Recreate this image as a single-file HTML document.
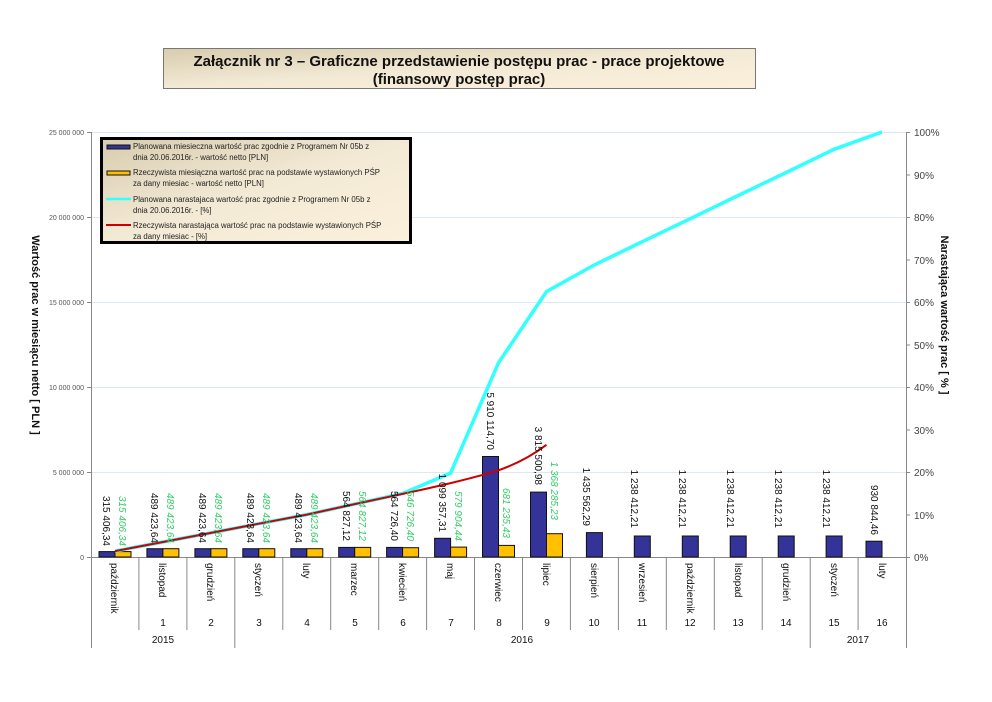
<!DOCTYPE html>
<html><head><meta charset="utf-8"><style>
html,body{margin:0;padding:0;background:#fff;}
svg{display:block;font-family:"Liberation Sans",Arial,sans-serif;}
</style></head><body>
<svg width="992" height="702" viewBox="0 0 992 702" xmlns="http://www.w3.org/2000/svg">
<defs>
<linearGradient id="bg" x1="0" y1="0" x2="1" y2="1">
<stop offset="0" stop-color="#d8ccae"/><stop offset="0.5" stop-color="#f3ead6"/><stop offset="1" stop-color="#fbf0dc"/>
</linearGradient>
</defs>
<rect x="163.5" y="48.5" width="592" height="40" fill="url(#bg)" stroke="#777" stroke-width="1"/>
<text x="459" y="66" font-size="15" font-weight="bold" text-anchor="middle" fill="#111">Załącznik nr 3 – Graficzne przedstawienie postępu prac - prace projektowe</text>
<text x="459" y="84" font-size="15" font-weight="bold" text-anchor="middle" fill="#111">(finansowy postęp prac)</text>

<g stroke="#dde8f5" stroke-width="1">
<line x1="91" y1="472.5" x2="906" y2="472.5"/><line x1="91" y1="387.5" x2="906" y2="387.5"/>
<line x1="91" y1="302.5" x2="906" y2="302.5"/><line x1="91" y1="217.5" x2="906" y2="217.5"/>
<line x1="91" y1="132.5" x2="906" y2="132.5"/>
</g>
<g stroke="#888" stroke-width="1">
<line x1="91.5" y1="132" x2="91.5" y2="648"/>
<line x1="906.5" y1="132" x2="906.5" y2="648"/>
<line x1="91" y1="557.5" x2="906" y2="557.5"/>
<line x1="87" y1="132.5" x2="91" y2="132.5"/><line x1="87" y1="217.5" x2="91" y2="217.5"/><line x1="87" y1="302.5" x2="91" y2="302.5"/><line x1="87" y1="387.5" x2="91" y2="387.5"/><line x1="87" y1="472.5" x2="91" y2="472.5"/><line x1="87" y1="557.5" x2="91" y2="557.5"/>
<line x1="906" y1="132.5" x2="910" y2="132.5"/><line x1="906" y1="175" x2="910" y2="175"/><line x1="906" y1="217.5" x2="910" y2="217.5"/><line x1="906" y1="260" x2="910" y2="260"/><line x1="906" y1="302.5" x2="910" y2="302.5"/><line x1="906" y1="345" x2="910" y2="345"/><line x1="906" y1="387.5" x2="910" y2="387.5"/><line x1="906" y1="430" x2="910" y2="430"/><line x1="906" y1="472.5" x2="910" y2="472.5"/><line x1="906" y1="515" x2="910" y2="515"/><line x1="906" y1="557.5" x2="910" y2="557.5"/>
<line x1="138.9" y1="557" x2="138.9" y2="630"/><line x1="186.9" y1="557" x2="186.9" y2="630"/><line x1="234.8" y1="557" x2="234.8" y2="648"/>
<line x1="282.8" y1="557" x2="282.8" y2="630"/><line x1="330.7" y1="557" x2="330.7" y2="630"/><line x1="378.7" y1="557" x2="378.7" y2="630"/>
<line x1="426.6" y1="557" x2="426.6" y2="630"/><line x1="474.5" y1="557" x2="474.5" y2="630"/><line x1="522.5" y1="557" x2="522.5" y2="630"/>
<line x1="570.4" y1="557" x2="570.4" y2="630"/><line x1="618.4" y1="557" x2="618.4" y2="630"/><line x1="666.3" y1="557" x2="666.3" y2="630"/>
<line x1="714.3" y1="557" x2="714.3" y2="630"/><line x1="762.2" y1="557" x2="762.2" y2="630"/><line x1="810.2" y1="557" x2="810.2" y2="648"/>
<line x1="858.1" y1="557" x2="858.1" y2="630"/>
</g>
<g font-size="7" fill="#555" text-anchor="end">
<text x="84" y="135">25 000 000</text><text x="84" y="220">20 000 000</text><text x="84" y="305">15 000 000</text>
<text x="84" y="390">10 000 000</text><text x="84" y="475">5 000 000</text><text x="84" y="560">0</text>
</g>
<g font-size="10" fill="#444">
<text x="914" y="136">100%</text><text x="914" y="179">90%</text><text x="914" y="221">80%</text><text x="914" y="264">70%</text>
<text x="914" y="306">60%</text><text x="914" y="349">50%</text><text x="914" y="391">40%</text><text x="914" y="434">30%</text>
<text x="914" y="476">20%</text><text x="914" y="519">10%</text><text x="914" y="561">0%</text>
</g>
<text transform="translate(32,335) rotate(90)" font-size="11" font-weight="bold" text-anchor="middle" fill="#111">Wartość prac w miesiącu netto  [ PLN ]</text>
<text transform="translate(941,315) rotate(90)" font-size="11" font-weight="bold" text-anchor="middle" fill="#111">Narastająca wartość prac  [ % ]</text>

<g fill="#333399" stroke="#111" stroke-width="1">
<rect x="99" y="551.6" width="16" height="5.4"/><rect x="146.9" y="548.7" width="16" height="8.3"/><rect x="194.9" y="548.7" width="16" height="8.3"/>
<rect x="242.8" y="548.7" width="16" height="8.3"/><rect x="290.8" y="548.7" width="16" height="8.3"/><rect x="338.7" y="547.4" width="16" height="9.6"/>
<rect x="386.6" y="547.4" width="16" height="9.6"/><rect x="434.6" y="538.3" width="16" height="18.7"/><rect x="482.5" y="456.5" width="16" height="100.5"/>
<rect x="530.5" y="492.1" width="16" height="64.9"/><rect x="586.4" y="532.6" width="16" height="24.4"/><rect x="634.3" y="536" width="16" height="21"/>
<rect x="682.3" y="536" width="16" height="21"/><rect x="730.2" y="536" width="16" height="21"/><rect x="778.2" y="536" width="16" height="21"/>
<rect x="826.1" y="536" width="16" height="21"/><rect x="866" y="541.2" width="16" height="15.8"/>
</g>
<g fill="#ffc000" stroke="#111" stroke-width="1">
<rect x="115" y="551.6" width="16" height="5.4"/><rect x="162.9" y="548.7" width="16" height="8.3"/><rect x="210.9" y="548.7" width="16" height="8.3"/>
<rect x="258.8" y="548.7" width="16" height="8.3"/><rect x="306.8" y="548.7" width="16" height="8.3"/><rect x="354.7" y="547.4" width="16" height="9.6"/>
<rect x="402.6" y="547.7" width="16" height="9.3"/><rect x="450.6" y="547.1" width="16" height="9.9"/><rect x="498.5" y="545.4" width="16" height="11.6"/>
<rect x="546.5" y="533.7" width="16" height="23.3"/>
</g>

<polyline fill="none" stroke="#33ffff" stroke-width="3.5" points="115,551.1 162.9,542 210.9,532.9 258.8,523.7 306.8,514.6 354.7,504.1 402.6,493.5 450.6,473.1 498.5,362.8 546.5,291.6 594.4,264.9 642.3,241.7 690.3,218.7 738.2,195.5 786.2,172.5 834.1,149.3 882,132"/>
<path fill="none" stroke="#cc0000" stroke-width="2" d="M115,551.1 L162.9,542 L210.9,532.9 L258.8,523.7 L306.8,514.6 L354.7,504.1 L402.6,493.9 Q430,488 450.6,483.1 Q480,476 498.5,470.3 Q525,461 546.5,444.8"/>

<g font-size="10" fill="#111" text-anchor="end">
<text transform="translate(103,546) rotate(90)">315 406,34</text>
<text transform="translate(151,543) rotate(90)">489 423,64</text>
<text transform="translate(199,543) rotate(90)">489 423,64</text>
<text transform="translate(247,543) rotate(90)">489 423,64</text>
<text transform="translate(295,543) rotate(90)">489 423,64</text>
<text transform="translate(343,541) rotate(90)">564 827,12</text>
<text transform="translate(391,541) rotate(90)">564 726,40</text>
<text transform="translate(439,532) rotate(90)">1 099 357,31</text>
<text transform="translate(487,450) rotate(90)">5 910 114,70</text>
<text transform="translate(535,485) rotate(90)">3 815 500,98</text>
<text transform="translate(583,526) rotate(90)">1 435 562,29</text>
<text transform="translate(631,528) rotate(90)">1 238 412,21</text>
<text transform="translate(679,528) rotate(90)">1 238 412,21</text>
<text transform="translate(727,528) rotate(90)">1 238 412,21</text>
<text transform="translate(775,528) rotate(90)">1 238 412,21</text>
<text transform="translate(823,528) rotate(90)">1 238 412,21</text>
<text transform="translate(871,535) rotate(90)">930 844,46</text>
</g>
<g font-size="10" fill="#33cc66" font-style="italic" text-anchor="end">
<text transform="translate(119,546) rotate(90)">315 406,34</text>
<text transform="translate(167,543) rotate(90)">489 423,64</text>
<text transform="translate(215,543) rotate(90)">489 423,64</text>
<text transform="translate(263,543) rotate(90)">489 423,64</text>
<text transform="translate(311,543) rotate(90)">489 423,64</text>
<text transform="translate(359,541) rotate(90)">564 827,12</text>
<text transform="translate(407,541) rotate(90)">546 726,40</text>
<text transform="translate(455,541) rotate(90)">579 904,44</text>
<text transform="translate(503,538) rotate(90)">681 235,43</text>
<text transform="translate(551,520) rotate(90)">1 368 285,23</text>
</g>

<g font-size="10" fill="#111">
<text transform="translate(111,563) rotate(90)">październik</text>
<text transform="translate(159,563) rotate(90)">listopad</text>
<text transform="translate(207,563) rotate(90)">grudzień</text>
<text transform="translate(255,563) rotate(90)">styczeń</text>
<text transform="translate(303,563) rotate(90)">luty</text>
<text transform="translate(351,563) rotate(90)">marzec</text>
<text transform="translate(399,563) rotate(90)">kwiecień</text>
<text transform="translate(447,563) rotate(90)">maj</text>
<text transform="translate(495,563) rotate(90)">czerwiec</text>
<text transform="translate(543,563) rotate(90)">lipiec</text>
<text transform="translate(591,563) rotate(90)">sierpień</text>
<text transform="translate(639,563) rotate(90)">wrzesień</text>
<text transform="translate(687,563) rotate(90)">październik</text>
<text transform="translate(735,563) rotate(90)">listopad</text>
<text transform="translate(783,563) rotate(90)">grudzień</text>
<text transform="translate(831,563) rotate(90)">styczeń</text>
<text transform="translate(879,563) rotate(90)">luty</text>
</g>
<g font-size="10" fill="#111" text-anchor="middle">
<text x="163" y="626">1</text><text x="211" y="626">2</text><text x="259" y="626">3</text><text x="307" y="626">4</text>
<text x="355" y="626">5</text><text x="403" y="626">6</text><text x="451" y="626">7</text><text x="499" y="626">8</text>
<text x="547" y="626">9</text><text x="594" y="626">10</text><text x="642" y="626">11</text><text x="690" y="626">12</text>
<text x="738" y="626">13</text><text x="786" y="626">14</text><text x="834" y="626">15</text><text x="882" y="626">16</text>
<text x="163" y="643">2015</text><text x="522" y="643">2016</text><text x="858" y="643">2017</text>
</g>

<rect x="101.5" y="138.5" width="309" height="104" fill="url(#bg)" stroke="#000" stroke-width="3"/>
<rect x="107" y="145" width="23" height="4" fill="#333399" stroke="#111" stroke-width="1"/>
<rect x="107" y="171" width="23" height="4" fill="#ffc000" stroke="#111" stroke-width="1"/>
<line x1="106" y1="199" x2="131" y2="199" stroke="#33ffff" stroke-width="2.5"/>
<line x1="106" y1="225" x2="131" y2="225" stroke="#cc0000" stroke-width="2"/>
<g font-size="7.8" fill="#222">
<text x="133" y="149">Planowana miesieczna wartość prac zgodnie z Programem Nr 05b z</text>
<text x="133" y="160">dnia 20.06.2016r. - wartość netto [PLN]</text>
<text x="133" y="175">Rzeczywista miesiączna wartość prac na podstawie wystawionych PŚP</text>
<text x="133" y="186">za dany miesiac - wartość netto [PLN]</text>
<text x="133" y="202">Planowana narastajaca wartość prac zgodnie z Programem Nr 05b z</text>
<text x="133" y="213">dnia 20.06.2016r. - [%]</text>
<text x="133" y="228">Rzeczywista narastająca wartość prac na podstawie wystawionych PŚP</text>
<text x="133" y="239">za dany miesiac - [%]</text>
</g>
</svg>
</body></html>
